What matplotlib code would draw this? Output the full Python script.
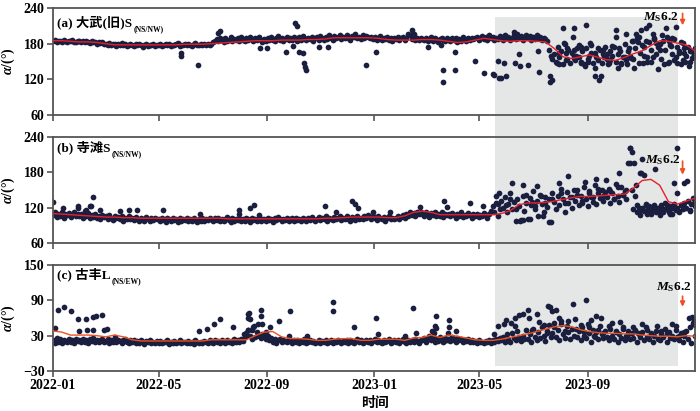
import numpy as np
import pandas as pd
import matplotlib
matplotlib.use('Agg')
import matplotlib.pyplot as plt
import matplotlib.dates as mdates
from matplotlib.patches import Rectangle

plt.rcParams['font.family'] = ['Liberation Serif', 'Noto Sans CJK SC']
plt.rcParams['font.weight'] = 'bold'
plt.rcParams['mathtext.fontset'] = 'custom'
plt.rcParams['mathtext.rm'] = 'Liberation Serif:bold'
plt.rcParams['mathtext.it'] = 'Liberation Serif:italic:bold'
plt.rcParams['mathtext.bf'] = 'Liberation Serif:bold'

START = pd.Timestamp('2022-01-01')
END = pd.Timestamp('2024-01-01')
SHADE_START = pd.Timestamp('2023-05-19')
SHADE_END = pd.Timestamp('2023-12-13')
QUAKE = pd.Timestamp('2023-12-18')
x_ticks = ['2022-01', '2022-05', '2022-09', '2023-01', '2023-05', '2023-09']

# ---- (a) 大武(旧) : one value every 2 days ----
a_base = [
    184, 186, 183, 185, 184, 182, 186, 184, 183, 185, 184, 186, 183, 182, 185,
    184, 183, 185, 182, 184, 183, 181, 184, 182, 183, 180, 182, 181, 183, 179,
    180, 178, 181, 177, 179, 180, 176, 179, 178, 181, 177, 179, 176, 178, 180,
    178, 176, 179, 177, 180, 178, 175, 177, 179, 176, 178, 177, 180, 176, 178,
    177, 179, 176, 178, 180, 177, 179, 176, 178, 177, 179, 181, 176, 178, 177,
    179, 177, 180, 178, 176, 179, 181, 178, 177, 180, 178, 179, 177, 180, 178,
    179, 182, 185, 188, 184, 190, 186, 183, 189, 185, 187, 191, 184, 188, 186,
    189, 185, 191, 187, 184, 190, 186, 192, 188, 185, 189, 186, 191, 187, 183,
    188, 184, 190, 186, 192, 187, 185, 189, 193, 186, 190, 184, 188, 191, 187,
    190, 186, 192, 188, 185, 191, 187, 193, 189, 186, 190, 188, 192, 185, 189,
    191, 187, 193, 189, 186, 192, 188, 194, 190, 187, 193, 189, 191, 195, 188,
    192, 189, 195, 190, 187, 193, 191, 196, 189, 192, 188, 194, 190, 193, 191,
    190, 192, 188, 191, 187, 189, 193, 186, 190, 188, 191, 187, 189, 185, 190,
    188, 191, 186, 189, 192, 187, 190, 197, 194, 188, 191, 186, 190, 187, 189,
    188, 186, 190, 184, 188, 191, 185, 189, 187, 183, 188, 190, 186, 184, 189,
    187, 184, 189, 186, 190, 183, 188, 185, 191, 187, 184, 189, 186, 190, 188,
    189, 192, 186, 190, 193, 188, 191, 187, 194, 189, 192, 186, 190, 188, 193,
    191, 187, 194, 189, 192, 186, 190, 195, 188, 192, 189, 193, 187, 191, 194,
    190, 193, 187, 191, 188, 194, 189, 192, 186, 190, 188, 185, 170, 160, 155,
    163, 150, 175, 158, 168, 145, 180, 155, 170, 148, 165, 160, 152, 172, 158,
    150, 168, 145, 172, 155, 160, 178, 148, 165, 158, 152, 170, 147, 162, 175,
    155, 148, 168, 160, 175, 150, 163, 172, 145, 158, 180, 152, 168, 160, 185,
    155, 172, 190, 148, 165, 178, 160, 185, 150, 182, 170, 158, 188, 162, 175,
    180, 155, 185, 170, 192, 150, 178, 162, 188, 158, 175, 168, 182, 152, 165,
    160, 175, 150, 168, 158, 172,
]
a_extra_day = [
    146, 146, 165, 188, 190, 235, 243, 265, 273, 275, 277, 280, 284, 286, 287, 288,
    303, 313, 356, 367, 408, 411, 426, 441, 443, 444, 457, 457, 480, 490, 500, 501,
    506, 507, 510, 513, 515, 524, 528, 525, 530, 531, 540, 552, 553, 565, 567, 565,
    580, 592, 606, 591, 581, 583, 593, 601, 611, 626, 640, 640, 652, 663, 669, 674,
    678, 682, 697, 708, 686, 701, 716,
    573, 576, 583, 593, 601, 605, 609, 616, 616, 621, 623, 631, 634, 642, 646, 653,
    657, 661, 671, 680, 688, 695, 699, 706, 710, 714, 719, 723, 727, 627, 650, 676,
    575, 585, 595, 598, 612, 620, 630, 636, 645, 655, 665, 672, 684, 690, 703, 712,
    718, 725, 729, 660, 667, 693, 704,
]
a_extra_val = [
    164, 159, 144, 198, 201, 173, 173, 166, 176, 214, 209, 166, 164, 147, 141, 136,
    174, 175, 144, 166, 203, 197, 175, 178, 135, 116, 166, 136, 151, 130, 129, 128,
    151, 122, 122, 148, 125, 199, 196, 147, 163, 142, 144, 167, 132, 125, 119, 116,
    206, 206, 211, 192, 181, 164, 169, 175, 181, 169, 203, 192, 197, 197, 203, 206,
    211, 197, 206, 208, 181, 184, 181,
    148, 145, 153, 156, 148, 142, 150, 139, 125, 119, 125, 145, 153, 139, 148, 145,
    156, 139, 148, 150, 137, 145, 148, 153, 148, 145, 150, 142, 156, 158, 158, 158,
    165, 172, 160, 178, 165, 172, 162, 176, 168, 172, 182, 175, 190, 170, 176, 165,
    172, 168, 162, 185, 192, 195, 190,
]
# moving average, one value every 10 days
a_trend = [
    185, 185, 184, 183, 183, 182, 180, 178, 178, 178, 178, 178, 178, 178, 178,
    179, 179, 179, 180, 181, 182, 183, 184, 185, 185, 185, 186, 186, 186, 187,
    187, 188, 190, 190, 190, 190, 190, 189, 187, 186, 186, 186, 187, 187, 186,
    184, 182, 183, 186, 189, 187, 185, 184, 185, 185, 184, 183, 172, 158, 155,
    158, 161, 157, 153, 152, 157, 163, 168, 177, 185, 184, 181, 178, 168,
]

# ---- (b) 寺滩 ----
b_base = [
    108, 112, 104, 110, 106, 113, 103, 109, 107, 111, 104, 108, 112, 105, 109,
    106, 110, 103, 108, 105, 111, 102, 107, 104, 109, 103, 106, 101, 108, 104,
    105, 101, 107, 103, 99, 106, 102, 104, 100, 105, 98, 103, 101, 106, 100,
    102, 99, 104, 100, 97, 103, 101, 98, 104, 100, 97, 102, 99, 103, 100,
    101, 98, 103, 99, 96, 102, 100, 97, 103, 99, 101, 96, 102, 98, 100,
    99, 102, 97, 101, 98, 103, 99, 96, 101, 98, 102, 97, 100, 99, 103,
    100, 97, 102, 99, 103, 98, 101, 97, 100, 104, 99, 96, 102, 98, 101,
    99, 103, 98, 101, 97, 102, 100, 96, 103, 99, 101, 98, 102, 97, 100,
    101, 98, 103, 99, 100, 96, 102, 99, 104, 100, 97, 101, 99, 103, 98,
    100, 103, 98, 102, 99, 101, 97, 103, 100, 98, 102, 99, 104, 100, 97,
    101, 104, 99, 102, 100, 105, 98, 103, 101, 99, 104, 100, 102, 106, 99,
    103, 100, 105, 101, 98, 104, 102, 99, 106, 101, 103, 100, 105, 102, 107,
    104, 101, 106, 102, 99, 105, 103, 100, 104, 98, 102, 106, 101, 103, 100,
    102, 105, 100, 104, 108, 103, 110, 106, 112, 108, 111, 106, 113, 109, 112,
    110, 106, 112, 108, 104, 111, 107, 113, 105, 109, 106, 112, 104, 110, 107,
    109, 105, 111, 107, 103, 110, 106, 112, 104, 108, 105, 111, 107, 103, 109,
    106, 110, 104, 108, 105, 111, 107, 103, 109, 115, 122, 112, 128, 105, 118,
    132, 120, 138, 112, 126, 145, 118, 130, 97, 135, 122, 99, 140, 115, 128,
    100, 136, 124, 148, 118, 131, 105, 142, 127, 113, 138, 121, 134, 95, 145,
    130, 118, 140, 125, 152, 134, 113, 146, 128, 138, 120, 150, 132, 142, 124,
    140, 128, 155, 135, 122, 148, 138, 130, 158, 126, 144, 136, 150, 132, 146,
    138, 152, 128, 145, 135, 160, 140, 130, 155, 142, 148, 135, 196, 221, 150,
    118, 140, 124, 112, 178, 120, 115, 126, 110, 122, 114, 118, 125, 112, 120,
    116, 124, 112, 128, 118, 114, 122, 110, 126, 116, 120, 113, 124, 118, 128,
    120, 131, 115, 126, 136, 122,
]
b_extra_day = [
    0, 11, 28, 28, 36, 38, 42, 43, 46, 53, 76, 86, 95, 125, 167, 212, 224, 212,
    229, 234, 309, 322, 340, 343, 347, 364, 383, 417, 445, 448, 474, 489, 504,
    506, 507,
    531, 534, 543, 557, 564, 522, 535, 551, 575, 586, 605, 617, 629, 644, 656,
    659, 656, 661, 670, 669, 672, 685, 710, 706, 710, 718, 721, 663, 667,
    515, 520, 526, 538, 545, 548, 555, 560, 568, 578, 582, 590, 596, 602, 610,
    614, 620, 625, 633, 638, 642, 648, 652, 664, 668, 675, 680, 684, 690, 695,
    700, 705, 712, 716, 725, 729, 674, 678, 688, 698, 702,
]
b_extra_val = [
    129, 120, 122, 119, 114, 116, 122, 123, 138, 116, 114, 116, 116, 116, 110, 116,
    119, 109, 124, 107, 123, 113, 132, 126, 120, 113, 113, 121, 132, 121, 128, 123,
    139, 126, 144,
    97, 99, 100, 105, 95, 161, 159, 156, 162, 173, 164, 168, 167, 179, 221,
    214, 196, 196, 202, 179, 176, 185, 221, 162, 144, 162, 165, 159, 119,
    125, 135, 118, 142, 130, 122, 140, 128, 135, 145, 128, 138, 150, 132, 145,
    138, 152, 140, 148, 135, 155, 142, 150, 112, 108, 116, 110, 122, 108, 118,
    112, 120, 114, 124, 116, 128, 125, 113, 118, 124, 110,
]
b_trend = [
    110, 109, 108, 107, 106, 105, 104, 104, 103, 103, 102, 102, 102, 102, 102,
    102, 102, 102, 102, 102, 101, 101, 101, 101, 101, 101, 101, 101, 101, 101,
    101, 102, 102, 103, 104, 104, 104, 104, 103, 103, 106, 112, 114, 112, 108,
    108, 108, 108, 108, 108, 108, 110, 115, 125, 128, 128, 129, 131, 134, 137,
    139, 139, 140, 141, 142, 143, 153, 166, 168, 158, 130, 126, 131, 136,
]

# ---- (c) 古丰 ----
c_base = [
    22, 18, 26, 20, 24, 17, 23, 21, 19, 25, 20, 22, 18, 24, 21,
    23, 19, 25, 20, 22, 18, 24, 21, 26, 19, 23, 20, 22, 25, 19,
    21, 24, 18, 22, 20, 25, 19, 23, 21, 17, 22, 24, 20, 18, 23,
    19, 22, 17, 21, 18, 23, 20, 16, 21, 19, 22, 18, 20, 17, 21,
    18, 21, 17, 20, 19, 22, 16, 20, 18, 21, 17, 19, 22, 18, 20,
    19, 17, 21, 18, 20, 16, 22, 19, 17, 20, 18, 21, 19, 17, 22,
    20, 18, 22, 19, 21, 17, 23, 20, 18, 22, 19, 21, 18, 24, 20,
    22, 19, 25, 21, 28, 34, 40, 30, 24, 45, 28, 36, 30, 26, 32,
    28, 24, 30, 22, 26, 20, 24, 18, 22, 25, 19, 23, 21, 20, 24,
    21, 18, 23, 20, 22, 17, 21, 19, 24, 18, 20, 22, 19, 21, 17,
    20, 22, 18, 21, 19, 23, 17, 20, 22, 18, 21, 19, 23, 20, 18,
    21, 19, 23, 18, 22, 20, 17, 21, 24, 19, 22, 18, 20, 23, 19,
    22, 18, 21, 24, 19, 23, 20, 17, 22, 19, 21, 24, 18, 20, 22,
    19, 22, 18, 21, 24, 20, 17, 23, 19, 22, 20, 25, 21, 18, 23,
    22, 26, 20, 24, 30, 22, 27, 19, 25, 21, 28, 23, 19, 26, 22,
    25, 21, 27, 23, 20, 26, 22, 24, 19, 23, 21, 25, 20, 22, 19,
    21, 18, 22, 19, 20, 17, 21, 19, 22, 18, 23, 20, 24, 21, 26,
    22, 28, 20, 32, 24, 19, 35, 26, 22, 38, 28, 21, 30, 25, 40,
    24, 32, 20, 42, 28, 22, 36, 26, 45, 30, 21, 38, 48, 27, 34,
    52, 28, 40, 22, 55, 32, 26, 46, 36, 24, 42, 30, 58, 28, 38,
    22, 44, 30, 26, 50, 34, 20, 40, 28, 36, 24, 46, 32, 26, 38,
    28, 22, 42, 30, 24, 36, 20, 32, 26, 44, 22, 30, 38, 24, 34,
    26, 40, 20, 32, 28, 36, 22, 44, 27, 24, 34, 20, 30, 38, 25,
    22, 32, 28, 42, 20, 36, 26, 30, 24, 46, 28, 22, 34, 20, 30,
    38, 24, 44, 18, 52, 30,
]
c_extra_day = [
    2, 6, 12, 21, 29, 30, 38, 39, 45, 45, 49, 56, 58, 61, 71, 166, 175, 183, 190,
    205, 217, 222, 222, 222, 223, 224, 229, 237, 236, 238, 233, 226, 242, 247, 257,
    270, 268, 289, 318, 318, 342, 367, 370, 400, 409, 413, 436, 434, 436, 431, 433,
    445, 450, 450, 449, 458, 501, 506,
    513, 515, 521, 525, 525, 530, 534, 540, 541, 551, 553, 563, 565, 568, 572, 576,
    591, 606, 612, 617, 623, 636, 645, 670, 687, 704, 723, 727,
    545, 558, 562, 570, 578, 582, 586, 595, 600, 604, 610, 615, 620, 626, 632, 640,
    648, 654, 660, 665, 675, 680, 692, 698, 708, 712, 718, 730, 729,
]
c_extra_val = [
    43, 74, 78, 72, 58, 38, 58, 39, 62, 40, 64, 65, 40, 41, 28, 38, 42, 49, 58,
    45, 33, 67, 60, 40, 68, 59, 46, 74, 63, 50, 50, 40, 37, 44, 55,
    72, 30, 30, 87, 72, 45, 60, 32, 30, 77, 35, 63, 46, 43, 38, 35,
    21, 57, 45, 35, 38, 32, 46,
    49, 57, 51, 46, 60, 65, 67, 74, 60, 67, 53, 80, 79, 72, 74, 60,
    83, 91, 57, 64, 60, 51, 53, 49, 46, 49, 60, 62,
    40, 48, 35, 44, 50, 38, 55, 42, 48, 36, 45, 30, 40, 34, 46, 38,
    42, 32, 44, 35, 40, 32, 38, 34, 40, 30, 36, 48, 55,
]
c_trend = [
    38, 36, 31, 31, 31, 30, 28, 31, 28, 23, 21, 21, 21, 21, 21,
    21, 21, 21, 23, 23, 23, 23, 23, 30, 36, 37, 28, 25, 25, 24,
    22, 22, 24, 25, 25, 22, 22, 24, 24, 24, 22, 26, 27, 31, 27,
    31, 29, 26, 23, 22, 22, 24, 27, 30, 33, 37, 41, 45, 47, 45,
    40, 37, 35, 34, 34, 33, 33, 31, 30, 29, 29, 28, 30, 29,
]

panels = [
    dict(base=a_base, ed=a_extra_day, ev=a_extra_val, trend=a_trend,
         ylim=(60, 240), yticks=[60, 120, 180, 240], name='(a) 大武(旧)S', sub='(NS/NW)',
         ly=0.865, lc='#e8202a', eq=(711, 225, 'right'), arr=(231, 211)),
    dict(base=b_base, ed=b_extra_day, ev=b_extra_val, trend=b_trend,
         ylim=(60, 240), yticks=[60, 120, 180, 240], name='(b) 寺滩S', sub='(NS/NW)',
         ly=0.905, lc='#e8202a', eq=(713, 201, 'right'), arr=(199, 176)),
    dict(base=c_base, ed=c_extra_day, ev=c_extra_val, trend=c_trend,
         ylim=(-30, 150), yticks=[-30, 30, 90, 150], name='(c) 古丰L', sub='(NS/EW)',
         ly=0.915, lc='#f0501e', eq=(706, 113, 'center'), arr=(97, 79)),
]

def to_dates(days):
    return START + pd.to_timedelta(np.asarray(days, dtype=float), unit='D')

fig = plt.figure(figsize=(7, 4.11), dpi=100)
boxes = [(0.0757, 0.7202, 0.917, 0.2603),
         (0.0757, 0.4088, 0.917, 0.2580),
         (0.0757, 0.0973, 0.917, 0.2580)]
axes = []
dot_color = '#1b1f3f'
spine_color = '#555555'

for p, box in zip(panels, boxes):
    ax = fig.add_axes(box)
    ax.set_facecolor('none')
    axes.append(ax)

    base_days = np.arange(len(p['base'])) * 2
    ax.scatter(to_dates(base_days), p['base'], s=17, c=dot_color, linewidths=0, zorder=2)
    ax.scatter(to_dates(p['ed']), p['ev'], s=17, c=dot_color, linewidths=0, zorder=2)
    trend_days = np.arange(len(p['trend'])) * 10
    ax.plot(to_dates(trend_days), p['trend'], color=p['lc'], lw=1.0, zorder=3)

    ax.set_xlim(START, END)
    ax.set_ylim(*p['ylim'])
    ax.set_yticks(p['yticks'])
    ax.set_xticks(pd.to_datetime(x_ticks))
    ax.xaxis.set_major_formatter(mdates.DateFormatter('%Y-%m'))
    for s in ax.spines.values():
        s.set_color(spine_color)
        s.set_linewidth(1.3)
    ax.tick_params(direction='out', length=4, width=1.2, color=spine_color,
                   labelsize=10, pad=2)
    ax.set_ylabel(r'$\alpha$/(°)', fontsize=10, fontweight='bold')
    ax.yaxis.set_label_coords(-0.056, 0.5)

    t = ax.text(0.006, p['ly'], p['name'], transform=ax.transAxes, fontsize=9.5,
                fontweight='bold', va='center', ha='left', zorder=4)
    ax.annotate(p['sub'], xy=(1, 0), xycoords=t, xytext=(1, 0),
                textcoords='offset points', fontsize=5.5, fontweight='bold',
                va='center', ha='left')

    ex, ey, eha = p['eq']
    ax.text(to_dates([ex])[0], ey, r'$M_{\mathrm{S}}$6.2', fontsize=9.5,
            fontweight='bold', ha=eha, va='center', zorder=4)
    qx = mdates.date2num(QUAKE)
    ax.annotate('', xy=(qx, p['arr'][1]), xytext=(qx, p['arr'][0]),
                arrowprops=dict(arrowstyle='-|>', color='#f04e23', lw=1.2,
                                mutation_scale=7, shrinkA=0, shrinkB=0), zorder=4)

for ax in axes[:2]:
    ax.tick_params(labelbottom=False)

fig.text(0.535, 0.02, '时间', fontsize=10, fontweight='bold', ha='center',
         va='center', family=['Noto Sans CJK SC'])

# grey window shared by all three panels
tr = axes[2].transData + fig.transFigure.inverted()
sx0 = tr.transform((mdates.date2num(SHADE_START), 0))[0]
sx1 = tr.transform((mdates.date2num(SHADE_END), 0))[0]
fig.patches.append(Rectangle((sx0, 0.1095), sx1 - sx0, 0.9586 - 0.1095,
                             transform=fig.transFigure, facecolor='#e5e7e7',
                             edgecolor='none', zorder=-1))

fig.savefig('out.png', dpi=100)
